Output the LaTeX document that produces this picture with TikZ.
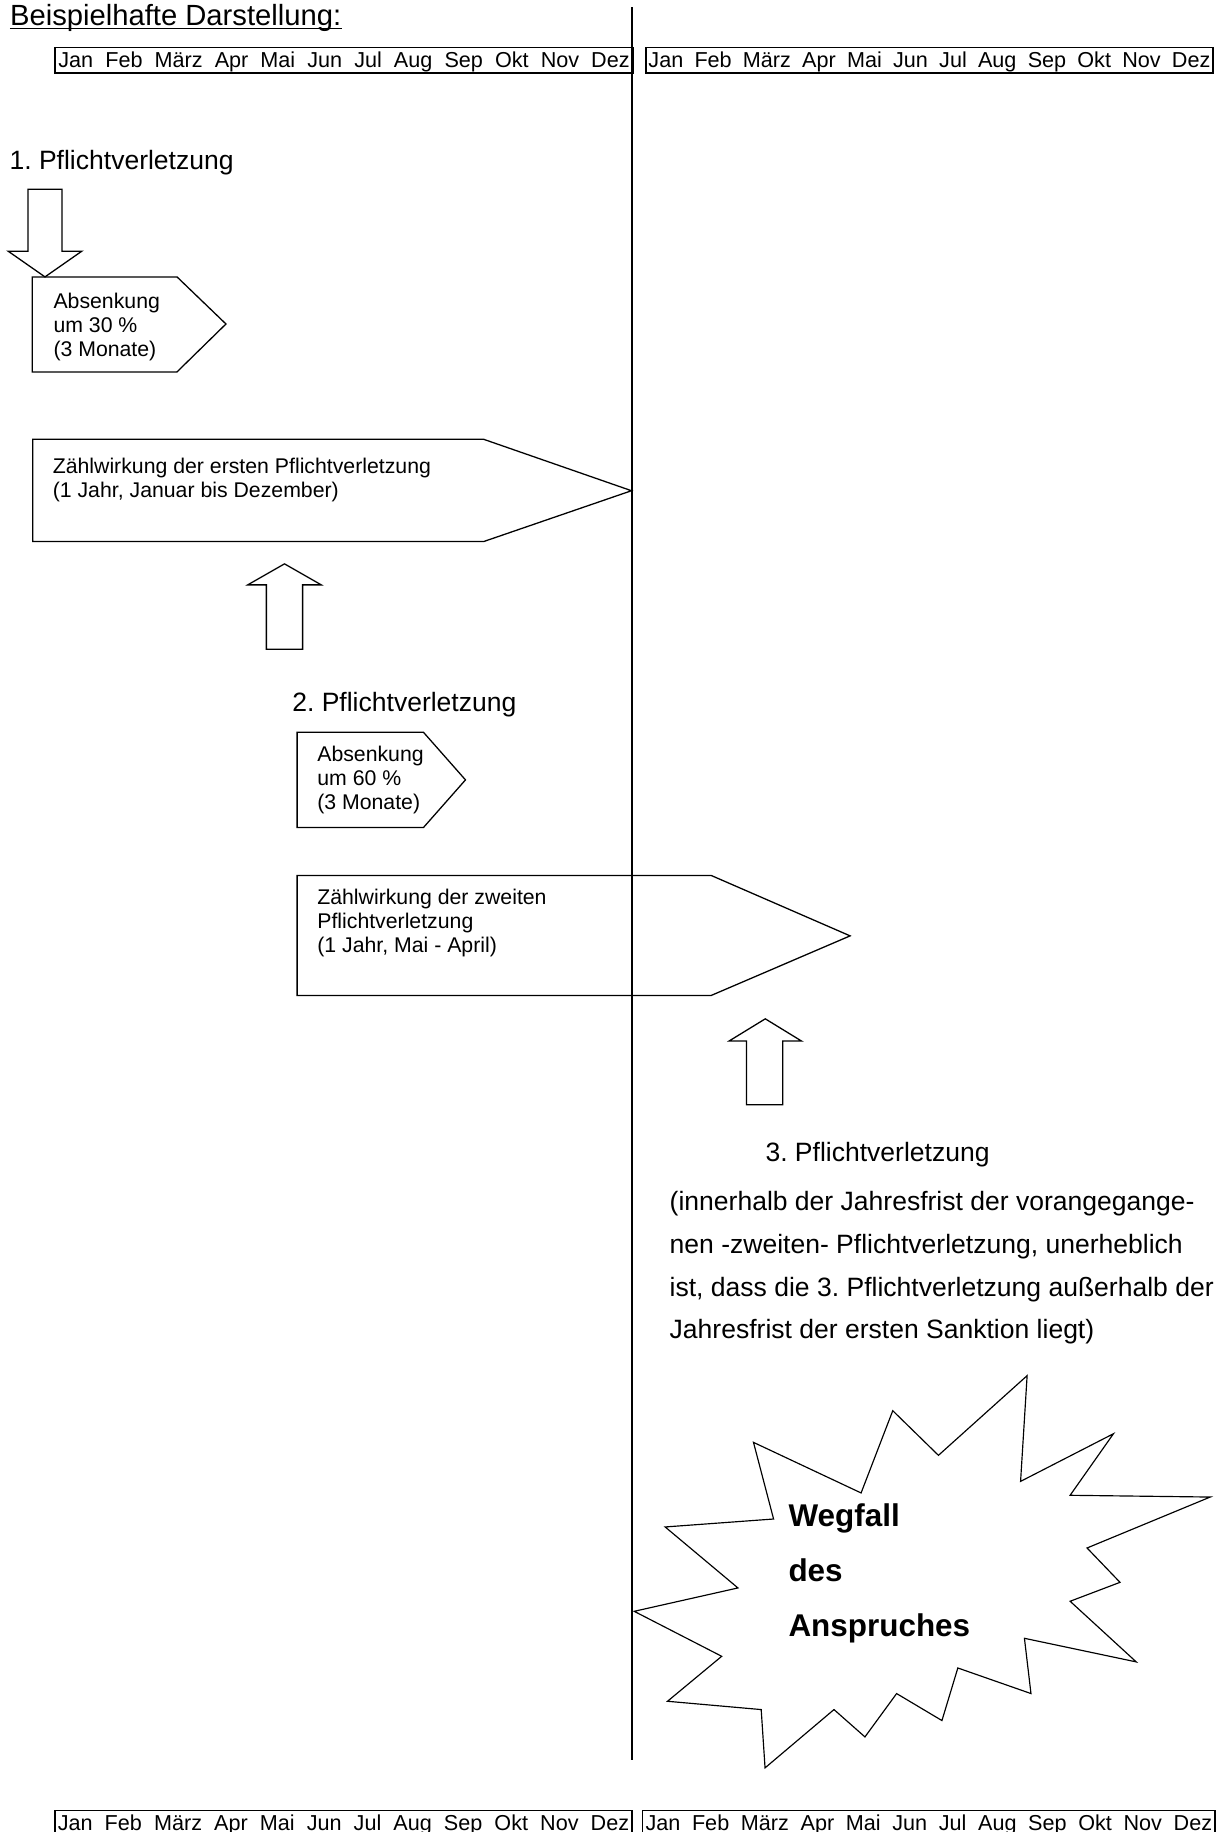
\documentclass[tikz,border=0pt]{standalone}
\usepackage{fontspec}
\setmainfont{Liberation Sans}
\frenchspacing
\newcommand{\monate}{Jan\hfill Feb\hfill März\hfill Apr\hfill Mai\hfill Jun\hfill Jul\hfill Aug\hfill Sep\hfill Okt\hfill Nov\hfill Dez}
\begin{document}
\begin{tikzpicture}[x=1pt, y=-1pt,
  txt/.style={anchor=base west, inner sep=0, align=left, font=\fontsize{18.2}{20.5}\selectfont},
  head/.style={anchor=base west, inner sep=0, align=left, font=\fontsize{22.7}{36.7}\selectfont},
  bar/.style={draw, line width=1.4pt, inner sep=0, minimum height=21.7, text depth=0pt, font=\fontsize{18.5}{20}\selectfont},
  form/.style={draw, line width=1.1pt}]

  \useasboundingbox (0,0) rectangle (1050,1568);

  % Zeitleiste
  \draw[line width=1.6pt] (541,6) -- (541,1506);
  \draw (294.5,51.4)  node(jahrAo) [bar, minimum width=495] {\hbox to 489pt{\monate}};
  \draw (795.5,51.4)  node(jahrBo) [bar, minimum width=485] {\hbox to 481pt{\monate}};
  \draw (294,1560.3)  node(jahrAu) [bar, minimum width=494] {\hbox to 489pt{\monate}};
  \draw (795,1560.3)  node(jahrBu) [bar, minimum width=490] {\hbox to 485pt{\monate}};

  % Titel
  \draw (8.4,21.4) node(titel) [anchor=base west, inner sep=0, font=\fontsize{25}{30}\selectfont] {Beispielhafte Darstellung:};
  \draw[line width=1.3pt] ([yshift=-3pt]titel.base west) -- ([yshift=-3pt]titel.base east);

  % 1. Pflichtverletzung
  \draw (8,145) node(pvA) [head] {1. Pflichtverletzung};
  \draw[form] (24,162) -- (53,162) -- (53,215) -- (70,215) -- (38.5,237) -- (7,215) -- (24,215) -- cycle;
  \draw[form] (27.6,237) -- (151.5,237) -- (193.4,277.3) -- (151.5,318.3) -- (27.6,318.3) -- cycle;
  \draw (45.6,305) node(absA) [txt] {Absenkung\\um 30 \%\\(3 Monate)};
  \draw[form] (28,376) -- (414,376) -- (540.5,420) -- (414,463.5) -- (28,463.5) -- cycle;
  \draw (45,425.5) node(zwA) [txt] {Zählwirkung der ersten Pflichtverletzung\\(1 Jahr, Januar bis Dezember)};

  % 2. Pflichtverletzung
  \draw[form] (243.5,482.6) -- (275,500.6) -- (259,500.6) -- (259,555.6) -- (228,555.6) -- (228,500.6) -- (212,500.6) -- cycle;
  \draw (250,609) node(pvB) [head] {2. Pflichtverletzung};
  \draw[form] (254.3,626.7) -- (362.4,626.7) -- (398.4,667.5) -- (362.4,708.3) -- (254.3,708.3) -- cycle;
  \draw (271.4,692.8) node(absB) [txt] {Absenkung\\um 60 \%\\(3 Monate)};
  \draw[form] (254.3,749.3) -- (608.7,749.3) -- (727.6,801) -- (608.7,852) -- (254.3,852) -- cycle;
  \draw (271.4,815.4) node(zwB) [txt] {Zählwirkung der zweiten\\Pflichtverletzung\\(1 Jahr, Mai - April)};

  % 3. Pflichtverletzung
  \draw[form] (655,872) -- (686,891) -- (670,891) -- (670,945.6) -- (639,945.6) -- (639,891) -- (624,891) -- cycle;
  \draw (655,994) node(pvC) [head] {3. Pflichtverletzung};
  \draw (573,1146) node(hinweis) [head] {(innerhalb der Jahresfrist der vorangegange-\\nen -zweiten- Pflichtverletzung, unerheblich\\ist, dass die 3. Pflichtverletzung außerhalb der\\Jahresfrist der ersten Sanktion liegt)};

  % Explosion
  \draw[form, line width=1pt] (879.1,1177.4) -- (873.5,1267.9) -- (953.0,1227.1) -- (915.9,1279.8) -- (1035.8,1281.3)
    -- (930.4,1324.9) -- (958.6,1354.3) -- (915.9,1370.5) -- (972.5,1422.4) -- (876.8,1402.2) -- (882.4,1449.5)
    -- (819.8,1427.6) -- (806.2,1472.6) -- (767.4,1449.5) -- (740.3,1486.6) -- (713.8,1463.2) -- (654.8,1513.1)
    -- (651.5,1463.2) -- (571.3,1456.1) -- (617.7,1417.6) -- (542.8,1379.1) -- (631.6,1359.1) -- (569.3,1306.9)
    -- (662.1,1300.1) -- (644.9,1234.5) -- (737.0,1277.8) -- (764.1,1207.4) -- (803.2,1245.6) -- cycle;
  \draw (674.7,1400.4) node(wegfall) [anchor=base west, inner sep=0, align=left, font=\fontsize{26.9}{47}\selectfont\bfseries] {Wegfall\\des\\Anspruches};
\end{tikzpicture}
\end{document}
